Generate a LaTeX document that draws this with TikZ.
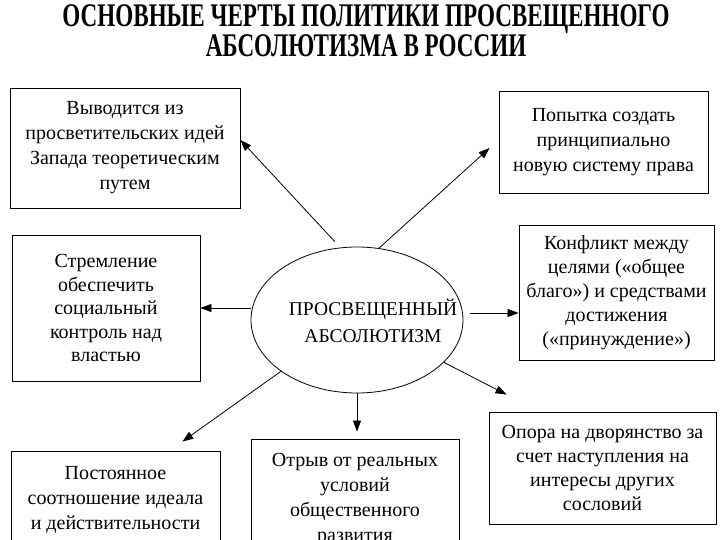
\documentclass[tikz,border=0pt]{standalone}
\usepackage{fontspec}
\setmainfont{Liberation Serif}
\newfontfamily\titlefont{Liberation Serif}[FakeStretch=0.7]
\usetikzlibrary{arrows.meta,shapes.geometric}

\begin{document}
\begin{tikzpicture}[x=1pt,y=-1pt,
 box/.style={draw,line width=0.9pt,align=center,inner sep=2pt,
  font=\fontsize{20}{25}\selectfont},
 arr/.style={-{Triangle[length=11pt,width=8pt]},line width=0.8pt}]
\useasboundingbox (0,0) rectangle (720,540);
\clip (0,0) rectangle (720,540);
\node[align=center,font=\titlefont\bfseries\fontsize{33}{28}\selectfont] (title) at (366,31)
 {ОСНОВНЫЕ ЧЕРТЫ ПОЛИТИКИ ПРОСВЕЩЕННОГО\\АБСОЛЮТИЗМА В РОССИИ};
\node[draw,ellipse,line width=0.8pt,minimum width=212,minimum height=146,inner sep=0] (ell) at (357,320) {};
\node[align=center,font=\fontsize{19.5}{27}\selectfont] (elltext) at (373,321)
 {ПРОСВЕЩЕННЫЙ\\АБСОЛЮТИЗМ};
\node[box,minimum width=230,minimum height=120] (tl) at (125,148)
 {Выводится из\\просветительских идей\\Запада теоретическим\\путем};
\node[box,minimum width=209,minimum height=102] (tr) at (603.5,142)
 {Попытка создать\\принципиально\\новую систему права};
\node[box,minimum width=188,minimum height=146,font=\fontsize{20}{23.5}\selectfont] (ml) at (106,308)
 {Стремление\\обеспечить\\социальный\\контроль над\\властью};
\node[box,minimum width=195,minimum height=135,font=\fontsize{20}{24}\selectfont] (mr) at (616.5,293)
 {Конфликт между\\целями («общее\\благо») и средствами\\достижения\\(«принуждение»)};
\node[box,minimum width=209,minimum height=97] (bl) at (115.5,499.5)
 {Постоянное\\соотношение идеала\\и действительности};
\node[box,minimum width=208,minimum height=121] (bm) at (355,499.5)
 {Отрыв от реальных\\условий\\общественного\\развития};
\node[box,minimum width=227,minimum height=112,font=\fontsize{20}{24}\selectfont] (br) at (602.5,468)
 {Опора на дворянство за\\счет наступления на\\интересы других\\сословий};
\draw[arr,shorten <=8pt] (ell.103) -- ([shift={(0,-8)}]tl.east);
\draw[arr] (ell.73) -- ([shift={(-9,6)}]tr.west);
\draw[arr] (ml.east -| ell.west) -- (ml.east);
\draw[arr] ([shift={(7,-7)}]ell.east) -- ([shift={(0,-7)}]ell.east -| mr.west);
\draw[arr] (ell.-26) -- ([shift={(18,-17)}]br.north west);
\draw[arr,shorten >=7pt] (ell.south) -- (ell.south |- bm.north);
\draw[arr] (ell.214) -- ([shift={(-38,-9)}]bl.north east);
\end{tikzpicture}
\end{document}
